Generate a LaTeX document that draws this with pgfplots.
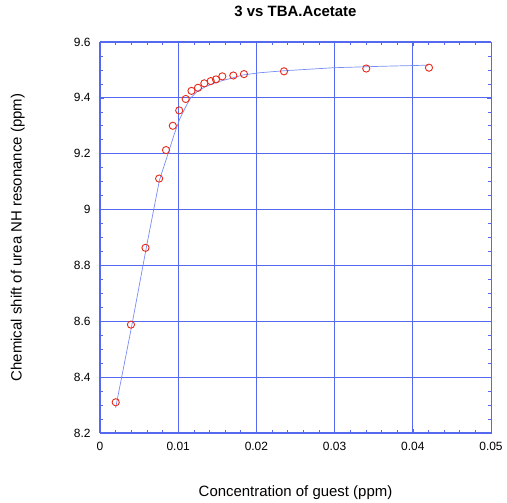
\documentclass[border=0pt]{standalone}
\usepackage{fontspec}
\setmainfont{Liberation Sans}
\usepackage{pgfplots}
\pgfplotsset{compat=1.18}
\definecolor{gridblue}{RGB}{85,105,240}
\definecolor{lineblue}{RGB}{120,140,245}
\definecolor{markred}{RGB}{230,40,25}
\begin{document}
\begin{tikzpicture}
\begin{axis}[
  scale only axis, width=391bp, height=391bp,
  xmin=0, xmax=0.05, ymin=8.2, ymax=9.6,
  scaled x ticks=false, scaled y ticks=false,
  xtick={0,0.01,0.02,0.03,0.04,0.05},
  xticklabels={0,0.01,0.02,0.03,0.04,0.05},
  ytick={8.2,8.4,8.6,8.8,9,9.2,9.4,9.6},
  yticklabels={8.2,8.4,8.6,8.8,9,9.2,9.4,9.6},
  minor x tick num=4, minor y tick num=3,
  tick align=inside,
  major tick length=4bp, minor tick length=3bp,
  tick style={gridblue, line width=0.6pt},
  axis line style={gridblue, line width=0.9pt},
  grid=major,
  major grid style={gridblue, line width=1bp},
  /pgf/number format/assume math mode=true,
  tick label style={font=\fontsize{12}{14}\selectfont},
  xticklabel style={yshift=-6bp},
  yticklabel style={xshift=-6bp},
  title={3 vs TBA.Acetate},
  title style={font=\bfseries\fontsize{15}{18}\selectfont, at={(axis description cs:0.5,1.0639)}, anchor=center},
  xlabel={Concentration of guest (ppm)},
  xlabel style={font=\fontsize{15}{18}\selectfont, at={(axis description cs:0.5,-0.152)}, anchor=center},
  ylabel={Chemical shift of urea NH resonance (ppm)},
  ylabel style={font=\fontsize{15}{18}\selectfont, at={(axis description cs:-0.210,0.5)}, anchor=center},
]
\addplot[lineblue, line width=0.7pt] coordinates {
(0.002,8.29) (0.004,8.575) (0.006,8.875) (0.0076,9.105) (0.0087,9.2)
(0.0095,9.27) (0.0102,9.325) (0.011,9.37) (0.0116,9.40) (0.0125,9.425)
(0.0135,9.44) (0.015,9.457) (0.0165,9.468) (0.0183,9.482) (0.0205,9.49)
(0.0235,9.497) (0.03,9.508) (0.036,9.513) (0.042,9.517)
};
\addplot[only marks, mark=o, mark size=3.6bp, markred, line width=0.9pt] coordinates {
(0.00201,8.310) (0.00396,8.588) (0.00582,8.863) (0.00756,9.111) (0.00844,9.213)
(0.00931,9.300) (0.01013,9.355) (0.01096,9.396) (0.0117,9.425) (0.01253,9.436)
(0.01334,9.452) (0.01416,9.460) (0.01483,9.466) (0.01564,9.477) (0.01705,9.480)
(0.01841,9.485) (0.02353,9.495) (0.03405,9.505) (0.04207,9.508)
};
\end{axis}
\path (current axis.south west) ++(-100bp,-69bp) (current axis.north east) ++(16bp,42bp);
\end{tikzpicture}
\end{document}
